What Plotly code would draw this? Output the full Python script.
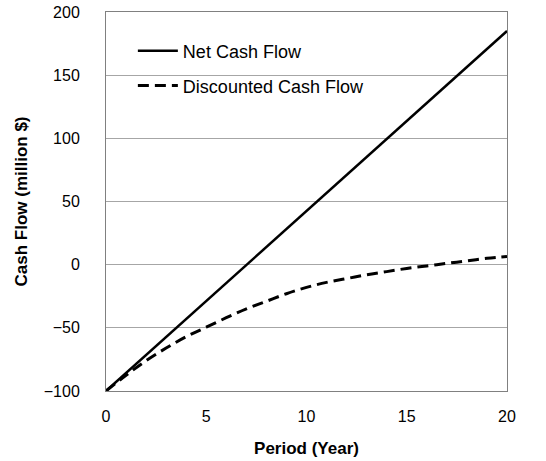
import plotly.graph_objects as go

years = list(range(0, 21))
net_cash_flow = [-100, -85.75, -71.5, -57.25, -43, -28.75, -14.5, -0.25, 14, 28.25, 42.5,
                 56.75, 71, 85.25, 99.5, 113.75, 128, 142.25, 156.5, 170.75, 185]
discounted_cash_flow = [-100, -87.5, -76, -66, -57, -49.5, -42, -35, -29, -23, -18,
                        -14, -11, -8, -5.5, -3, -1, 1, 3, 5, 6.5]

x_ticks = [0, 5, 10, 15, 20]
y_ticks = [-100, -50, 0, 50, 100, 150, 200]
y_tick_text = ["\u2212100", "\u221250", "0", "50", "100", "150", "200"]

font_family = "Liberation Sans, Arial, sans-serif"

fig = go.Figure()
fig.add_trace(go.Scatter(
    x=years, y=net_cash_flow, mode="lines", name="Net Cash Flow",
    line=dict(color="black", width=2.5), legend="legend"))
fig.add_trace(go.Scatter(
    x=years, y=discounted_cash_flow, mode="lines", name="Discounted Cash Flow",
    line=dict(color="black", width=3, dash="11px,6px", shape="spline"), legend="legend2"))

legend_common = dict(bgcolor="rgba(0,0,0,0)", font=dict(family=font_family, size=18, color="black"),
                     xref="paper", yref="paper", xanchor="left", yanchor="middle",
                     itemwidth=40, borderwidth=0)

fig.update_layout(
    width=546, height=461,
    margin=dict(l=106, r=39, t=12, b=70, autoexpand=False),
    paper_bgcolor="white", plot_bgcolor="white",
    font=dict(family=font_family, size=16, color="black"),
    showlegend=True,
    legend=dict(x=0.067, y=0.897, **legend_common),
    legend2=dict(x=0.067, y=0.805, **legend_common),
    xaxis=dict(
        range=[0, 20], tickvals=x_ticks, showgrid=False, zeroline=False, automargin=False,
        showline=True, linecolor="#808080", linewidth=1, mirror=True,
        ticks="outside", ticklen=11, tickcolor="rgba(0,0,0,0)",
        tickfont=dict(size=16, color="black"),
        title=dict(text="<b>Period (Year)</b>", font=dict(size=17, color="black"), standoff=17),
    ),
    yaxis=dict(
        range=[-100, 200], tickvals=y_ticks, ticktext=y_tick_text, automargin=False,
        showgrid=True, gridcolor="#a6a6a6", gridwidth=1, zeroline=False,
        showline=True, linecolor="#808080", linewidth=1, mirror=True,
        ticks="outside", ticklen=22, tickcolor="rgba(0,0,0,0)",
        tickfont=dict(size=16, color="black"),
        title=dict(text="<b>Cash Flow (million $)</b>", font=dict(size=17, color="black"), standoff=11),
    ),
)

fig.write_html("out.html", config={"displayModeBar": False},
               post_script="document.body.style.margin='0px';")
